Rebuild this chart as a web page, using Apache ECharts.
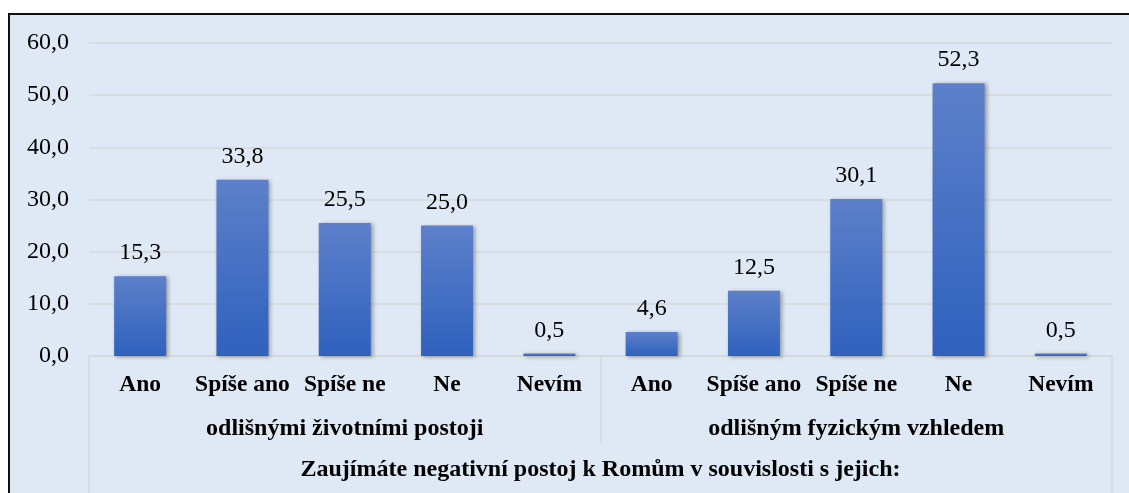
<!DOCTYPE html>
<html>
<head>
<meta charset="utf-8">
<script src="https://cdn.jsdelivr.net/npm/echarts@6/dist/echarts.min.js"></script>
<style>
  html, body { margin: 0; padding: 0; background: #fff; overflow: hidden; }
  #chart-container {
    position: absolute; left: 8px; top: 13px;
    width: 1130px; height: 485px;
    border: 2px solid #111;
    background: #dee9f5;
  }
</style>
</head>
<body>
<div id="chart-container"></div>
<script>
var answers = ['Ano', 'Spíše ano', 'Spíše ne', 'Ne', 'Nevím',
               'Ano', 'Spíše ano', 'Spíše ne', 'Ne', 'Nevím'];
var groups = ['odlišnými životními postoji', 'odlišným fyzickým vzhledem'];
var question = ['Zaujímáte negativní postoj k Romům v souvislosti s jejich:'];
var values = [15.3, 33.8, 25.5, 25.0, 0.5, 4.6, 12.5, 30.1, 52.3, 0.5];

var dom = document.getElementById('chart-container');
var myChart = echarts.init(dom);
var option;

var font = '"Liberation Serif", "Times New Roman", serif';
var lineColor = '#d4d7da';

function fmt(v) {
  return v.toFixed(1).replace('.', ',');
}

option = {
  animation: false,
  textStyle: { fontFamily: font },
  grid: {
    left: 79,
    top: 28,
    width: 1023,
    height: 313,
    containLabel: false
  },
  xAxis: [
    {
      type: 'category',
      data: answers,
      position: 'bottom',
      axisLine: { show: true, lineStyle: { color: lineColor, width: 1.5 } },
      axisTick: { show: false },
      axisLabel: {
        margin: 17,
        color: '#000',
        fontFamily: font,
        fontSize: 23.5,
        fontWeight: 'bold',
        interval: 0
      }
    },
    {
      type: 'category',
      data: groups,
      position: 'bottom',
      axisLine: { show: false },
      axisTick: { show: true, length: 87, lineStyle: { color: lineColor, width: 1.5 } },
      axisLabel: {
        margin: 61,
        color: '#000',
        fontFamily: font,
        fontSize: 24,
        fontWeight: 'bold',
        interval: 0
      }
    },
    {
      type: 'category',
      data: question,
      position: 'bottom',
      axisLine: { show: false },
      axisTick: { show: true, length: 150, lineStyle: { color: lineColor, width: 1.5 } },
      axisLabel: {
        margin: 102,
        color: '#000',
        fontFamily: font,
        fontSize: 24,
        fontWeight: 'bold'
      }
    }
  ],
  yAxis: {
    type: 'value',
    min: 0,
    max: 60,
    interval: 10,
    axisLine: { show: false },
    axisTick: { show: false },
    splitLine: { lineStyle: { color: lineColor, width: 1.5 } },
    axisLabel: {
      margin: 20,
      color: '#000',
      fontFamily: font,
      fontSize: 24,
      formatter: function (v) { return fmt(v); }
    }
  },
  series: [
    {
      type: 'bar',
      xAxisIndex: 0,
      data: values,
      barWidth: 52,
      itemStyle: {
        color: new echarts.graphic.LinearGradient(0, 0, 0, 1, [
          { offset: 0, color: '#5d80c9' },
          { offset: 1, color: '#2f61be' }
        ]),
        shadowColor: 'rgba(0, 0, 0, 0.35)',
        shadowBlur: 4,
        shadowOffsetX: 2,
        shadowOffsetY: 1
      },
      label: {
        show: true,
        position: 'top',
        distance: 11,
        color: '#000',
        fontFamily: font,
        fontSize: 24,
        formatter: function (p) { return fmt(p.value); }
      }
    }
  ]
};

if (option && typeof option === 'object') {
  myChart.setOption(option);
}

window.addEventListener('resize', myChart.resize);
</script>
</body>
</html>
